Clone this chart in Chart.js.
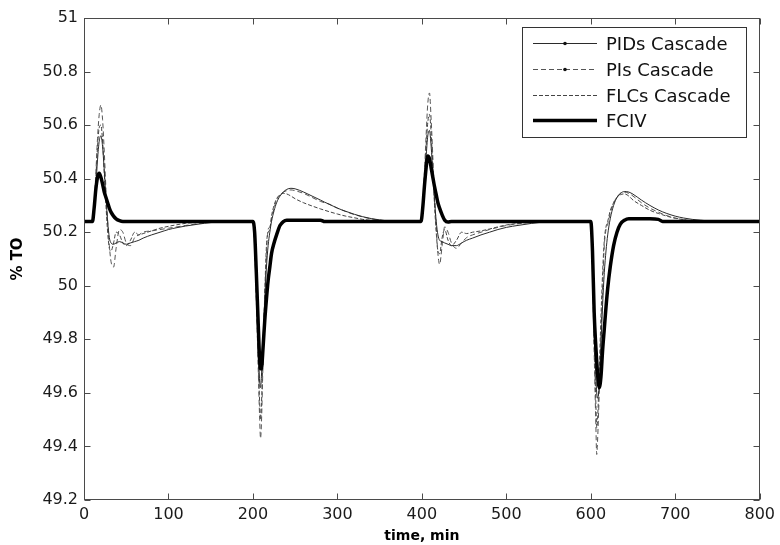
<!DOCTYPE html>
<html>
<head>
<meta charset="utf-8">
<title>%TO response</title>
<script src="https://cdn.jsdelivr.net/npm/chart.js@4.4.1/dist/chart.umd.min.js"></script>
<style>
  html, body { margin: 0; padding: 0; background: #fff; }
  canvas { display: block; }
</style>
</head>
<body>
<canvas id="to-chart" width="780" height="545"></canvas>
<script>
// time grid (min), denser around the four disturbances
const time = [
  0, 10, 12, 14, 16, 18, 20, 22, 24, 26, 28, 30, 32, 35, 38, 42, 46, 50, 55, 60,
  65, 70, 80, 90, 100, 110, 120, 135, 150, 175,
  200, 202, 204, 206, 208, 209, 210, 212, 214, 216, 218, 220, 222, 225, 228, 232, 236, 240, 245, 250,
  260, 270, 280, 285, 290, 300, 310, 320, 330, 340, 350, 365, 380,
  399, 401, 403, 405, 407, 409, 411, 413, 415, 417, 419, 421, 424, 427, 431, 435, 441, 447, 453, 460,
  470, 480, 490, 500, 515, 530, 545, 560, 580,
  600, 602, 604, 606, 607, 608, 610, 612, 614, 616, 618, 620, 623, 627, 631, 635, 640, 645, 650, 660,
  670, 680, 685, 690, 700, 710, 720, 730, 740, 750, 765, 780, 800
];

const fciv = [
  50.24, 50.24, 50.29, 50.36, 50.405, 50.42, 50.405, 50.38, 50.35, 50.33, 50.31, 50.29, 50.275, 50.26, 50.25, 50.243, 50.24, 50.24, 50.24, 50.24,
  50.24, 50.24, 50.24, 50.24, 50.24, 50.24, 50.24, 50.24, 50.24, 50.24,
  50.24, 50.2, 50.05, 49.88, 49.72, 49.69, 49.69, 49.77, 49.87, 49.95, 50.02, 50.07, 50.12, 50.16, 50.19, 50.225, 50.24, 50.245, 50.245, 50.245,
  50.245, 50.245, 50.245, 50.24, 50.24, 50.24, 50.24, 50.24, 50.24, 50.24, 50.24, 50.24, 50.24,
  50.24, 50.29, 50.37, 50.44, 50.485, 50.475, 50.44, 50.405, 50.37, 50.34, 50.31, 50.29, 50.265, 50.245, 50.238, 50.24, 50.24, 50.24, 50.24, 50.24,
  50.24, 50.24, 50.24, 50.24, 50.24, 50.24, 50.24, 50.24, 50.24,
  50.24, 50.13, 49.9, 49.77, 49.72, 49.67, 49.62, 49.66, 49.76, 49.84, 49.92, 49.99, 50.07, 50.15, 50.2, 50.23, 50.245, 50.25, 50.25, 50.25,
  50.25, 50.248, 50.24, 50.24, 50.24, 50.24, 50.24, 50.24, 50.24, 50.24, 50.24, 50.24, 50.24
];

const pidCascade = [
  50.24, 50.24, 50.28, 50.37, 50.47, 50.54, 50.56, 50.52, 50.43, 50.33, 50.24, 50.18, 50.16, 50.155, 50.16, 50.165, 50.16, 50.155, 50.16, 50.165,
  50.17, 50.178, 50.19, 50.2, 50.21, 50.217, 50.223, 50.23, 50.236, 50.24,
  50.24, 50.17, 50.0, 49.8, 49.64, 49.62, 49.66, 49.8, 49.95, 50.07, 50.15, 50.2, 50.24, 50.28, 50.31, 50.335, 50.35, 50.36, 50.364, 50.362,
  50.35, 50.335, 50.32, 50.312, 50.305, 50.29, 50.278, 50.267, 50.258, 50.251, 50.246, 50.241, 50.24,
  50.24, 50.28, 50.38, 50.48, 50.56, 50.58, 50.52, 50.42, 50.32, 50.24, 50.19, 50.17, 50.165, 50.16, 50.155, 50.15, 50.15, 50.16, 50.17, 50.178,
  50.19, 50.2, 50.21, 50.218, 50.226, 50.233, 50.238, 50.24, 50.24,
  50.24, 50.1, 49.85, 49.66, 49.6, 49.58, 49.63, 49.78, 49.93, 50.05, 50.13, 50.19, 50.25, 50.3, 50.33, 50.345, 50.352, 50.35, 50.342, 50.32,
  50.3, 50.283, 50.276, 50.27, 50.26, 50.253, 50.248, 50.245, 50.242, 50.24, 50.24, 50.24, 50.24
];

const piCascade = [
  50.24, 50.24, 50.3, 50.42, 50.55, 50.64, 50.675, 50.62, 50.5, 50.36, 50.24, 50.15, 50.09, 50.07, 50.14, 50.21, 50.2, 50.16, 50.15, 50.18,
  50.19, 50.2, 50.205, 50.21, 50.215, 50.22, 50.225, 50.232, 50.238, 50.24,
  50.24, 50.15, 49.95, 49.72, 49.5, 49.43, 49.48, 49.72, 49.95, 50.12, 50.21, 50.22, 50.25, 50.29, 50.32, 50.34, 50.35, 50.355, 50.358, 50.355,
  50.345, 50.33, 50.315, 50.31, 50.305, 50.29, 50.277, 50.266, 50.257, 50.25, 50.245, 50.241, 50.24,
  50.24, 50.3, 50.42, 50.56, 50.68, 50.72, 50.62, 50.48, 50.34, 50.22, 50.12, 50.08, 50.15, 50.22, 50.2, 50.16, 50.14, 50.16, 50.18, 50.19,
  50.2, 50.21, 50.218, 50.225, 50.232, 50.237, 50.24, 50.24, 50.24,
  50.24, 50.05, 49.75, 49.48, 49.37, 49.42, 49.6, 49.8, 50.0, 50.15, 50.21, 50.23, 50.27, 50.31, 50.33, 50.345, 50.35, 50.345, 50.335, 50.31,
  50.29, 50.275, 50.268, 50.262, 50.253, 50.247, 50.243, 50.24, 50.24, 50.24, 50.24, 50.24, 50.24
];

const flcCascade = [
  50.24, 50.24, 50.29, 50.4, 50.52, 50.59, 50.6, 50.54, 50.42, 50.3, 50.2, 50.14, 50.13, 50.16, 50.2, 50.19, 50.16, 50.15, 50.17, 50.2,
  50.19, 50.195, 50.205, 50.215, 50.222, 50.228, 50.233, 50.237, 50.24, 50.24,
  50.24, 50.16, 49.97, 49.76, 49.56, 49.5, 49.55, 49.75, 49.97, 50.15, 50.2, 50.21, 50.26, 50.3, 50.325, 50.34, 50.345, 50.343, 50.335, 50.325,
  50.31, 50.298, 50.287, 50.282, 50.277, 50.268, 50.26, 50.254, 50.248, 50.244, 50.241, 50.24, 50.24,
  50.24, 50.29, 50.4, 50.52, 50.61, 50.64, 50.57, 50.44, 50.3, 50.2, 50.13, 50.12, 50.18, 50.21, 50.17, 50.15, 50.17, 50.2, 50.195, 50.2,
  50.205, 50.212, 50.22, 50.227, 50.233, 50.238, 50.24, 50.24, 50.24,
  50.24, 50.08, 49.8, 49.56, 49.47, 49.5, 49.68, 49.88, 50.05, 50.17, 50.22, 50.24, 50.28, 50.31, 50.33, 50.34, 50.343, 50.335, 50.32, 50.3,
  50.282, 50.27, 50.265, 50.26, 50.252, 50.247, 50.243, 50.24, 50.24, 50.24, 50.24, 50.24, 50.24
];

const seriesNames = ["PIDs Cascade", "PIs Cascade", "FLCs Cascade", "FCIV"];
const xTickLabels = ["0", "100", "200", "300", "400", "500", "600", "700", "800"];
const yTickLabels = ["49.2", "49.4", "49.6", "49.8", "50", "50.2", "50.4", "50.6", "50.8", "51"];

const FONT = "'DejaVu Sans', 'Liberation Sans', Arial, sans-serif";

function toPoints(values) {
  return time.map((t, i) => ({ x: t, y: values[i] }));
}

// white background, matlab-like box with inward ticks, and the legend box
const frameAndLegend = {
  id: "frameAndLegend",
  beforeDraw(chart) {
    const ctx = chart.ctx;
    ctx.save();
    ctx.fillStyle = "#fff";
    ctx.fillRect(0, 0, chart.width, chart.height);
    ctx.restore();
  },
  afterDraw(chart) {
    const { ctx, chartArea: a, scales } = chart;
    const left = Math.round(a.left) + 0.5;
    const right = Math.round(a.right) - 0.5;
    const top = Math.round(a.top) + 0.5;
    const bottom = Math.round(a.bottom) - 0.5;
    const tickLen = 6;

    ctx.save();
    ctx.strokeStyle = "#4a4a4a";
    ctx.lineWidth = 1;
    ctx.setLineDash([]);
    ctx.strokeRect(left, top, right - left, bottom - top);

    ctx.beginPath();
    scales.x.ticks.forEach(t => {
      const px = Math.round(scales.x.getPixelForValue(t.value)) + 0.5;
      ctx.moveTo(px, bottom);
      ctx.lineTo(px, bottom - tickLen);
      ctx.moveTo(px, top);
      ctx.lineTo(px, top + tickLen);
    });
    scales.y.ticks.forEach(t => {
      const py = Math.round(scales.y.getPixelForValue(t.value)) + 0.5;
      ctx.moveTo(left, py);
      ctx.lineTo(left + tickLen, py);
      ctx.moveTo(right, py);
      ctx.lineTo(right - tickLen, py);
    });
    ctx.stroke();

    // legend
    const box = { x: 522.5, y: 27.5, w: 224, h: 110 };
    ctx.fillStyle = "#fff";
    ctx.fillRect(box.x, box.y, box.w, box.h);
    ctx.strokeStyle = "#333";
    ctx.strokeRect(box.x, box.y, box.w, box.h);

    ctx.font = "18px " + FONT;
    ctx.textBaseline = "middle";
    ctx.textAlign = "left";
    seriesNames.forEach((name, i) => {
      const ds = chart.data.datasets.find(d => d.label === name);
      const ly = Math.round(43 + i * 25.8) + 0.5;
      ctx.save();
      ctx.strokeStyle = ds.borderColor;
      ctx.lineWidth = ds.borderWidth;
      ctx.setLineDash(ds.borderDash || []);
      ctx.beginPath();
      ctx.moveTo(533, ly);
      ctx.lineTo(597, ly);
      ctx.stroke();
      if (ds.legendDot) {
        ctx.fillStyle = "#111";
        ctx.beginPath();
        ctx.arc(565, ly, 1.8, 0, Math.PI * 2);
        ctx.fill();
      }
      ctx.restore();
      ctx.fillStyle = "#111";
      ctx.fillText(name, 606, ly + 1.5);
    });
    ctx.restore();
  }
};

new Chart(document.getElementById("to-chart"), {
  type: "line",
  data: {
    datasets: [
      {
        label: "FCIV",
        data: toPoints(fciv),
        borderColor: "#000",
        borderWidth: 3.5,
        order: 0
      },
      {
        label: "PIDs Cascade",
        data: toPoints(pidCascade),
        borderColor: "#2b2b2b",
        borderWidth: 1,
        legendDot: true,
        order: 1
      },
      {
        label: "PIs Cascade",
        data: toPoints(piCascade),
        borderColor: "#555",
        borderWidth: 1,
        borderDash: [5, 3],
        legendDot: true,
        order: 2
      },
      {
        label: "FLCs Cascade",
        data: toPoints(flcCascade),
        borderColor: "#444",
        borderWidth: 1,
        borderDash: [4, 2],
        order: 3
      }
    ]
  },
  options: {
    responsive: false,
    animation: false,
    devicePixelRatio: 1,
    layout: { padding: { top: 18, right: 17, left: 0, bottom: 0 } },
    elements: {
      point: { radius: 0, hoverRadius: 0 },
      line: { cubicInterpolationMode: "monotone", fill: false }
    },
    plugins: {
      legend: { display: false },
      tooltip: { enabled: false }
    },
    scales: {
      x: {
        type: "linear",
        min: 0,
        max: 800,
        grid: { display: false, drawTicks: false },
        border: { display: false },
        ticks: {
          stepSize: 100,
          padding: 5,
          color: "#1a1a1a",
          font: { family: FONT, size: 16 },
          maxRotation: 0,
          callback: (value, index) => xTickLabels[index]
        },
        title: {
          display: true,
          text: "time, min",
          color: "#000",
          font: { family: FONT, size: 14, weight: "bold" },
          padding: { top: 2, bottom: 0 }
        },
        afterFit: scale => { scale.height = 45; }
      },
      y: {
        min: 49.2,
        max: 51,
        grid: { display: false, drawTicks: false },
        border: { display: false },
        ticks: {
          stepSize: 0.2,
          padding: 6,
          color: "#1a1a1a",
          font: { family: FONT, size: 16 },
          callback: (value, index) => yTickLabels[index]
        },
        title: {
          display: true,
          text: "% TO",
          color: "#000",
          font: { family: FONT, size: 15, weight: "bold" },
          padding: { top: 9, bottom: 0 }
        },
        afterFit: scale => { scale.width = 84; }
      }
    }
  },
  plugins: [frameAndLegend]
});
</script>
</body>
</html>
